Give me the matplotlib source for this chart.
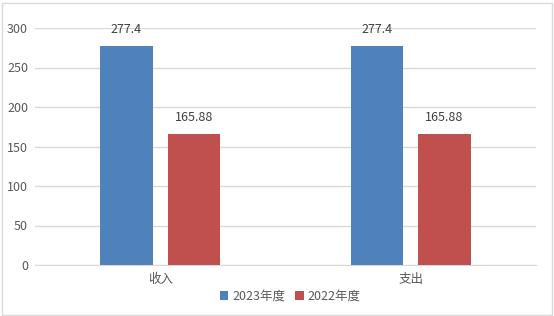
import numpy as np
import matplotlib.pyplot as plt
from matplotlib.patches import Rectangle

plt.rcParams['font.family'] = ['Noto Sans CJK SC', 'DejaVu Sans']

categories = ['收入', '支出']
series_names = ['2023年度', '2022年度']
values_2023 = [277.4, 277.4]
values_2022 = [165.88, 165.88]
value_labels_2023 = ['277.4', '277.4']
value_labels_2022 = ['165.88', '165.88']

blue = '#4F81BD'
red = '#C0504D'
text_color = '#595959'

fig = plt.figure(figsize=(5.54, 3.16), dpi=100)
ax = fig.add_axes([35 / 554, 1 - 265 / 316, (536 - 35) / 554, (265 - 28) / 316])

x = np.arange(len(categories))
w = 0.21
off = 0.135
b1 = ax.bar(x - off, values_2023, w, color=blue, label=series_names[0], zorder=3)
b2 = ax.bar(x + off, values_2022, w, color=red, label=series_names[1], zorder=3)

for bars, labels in [(b1, value_labels_2023), (b2, value_labels_2022)]:
    for rect, lab in zip(bars, labels):
        ax.annotate(lab, (rect.get_x() + rect.get_width() / 2, rect.get_height()),
                    xytext=(0, 7), textcoords='offset points', ha='center', va='bottom',
                    fontsize=9, color='#404040')

ax.set_xlim(-0.5, 1.5)
ax.set_ylim(0, 300)
ax.set_yticks(np.arange(0, 301, 50))
ax.set_xticks(x)
ax.set_xticklabels(categories)
ax.grid(axis='y', color='#D9D9D9', linewidth=1, zorder=0)
for s in ['top', 'right', 'left']:
    ax.spines[s].set_visible(False)
ax.spines['bottom'].set_color('#D9D9D9')
ax.tick_params(axis='both', length=0, labelsize=9, colors=text_color)
ax.tick_params(axis='y', pad=5)
ax.tick_params(axis='x', pad=6)

ax.legend(loc='center', bbox_to_anchor=(290 / 554, 1 - 296 / 316),
          bbox_transform=fig.transFigure, ncol=2, frameon=False, fontsize=9,
          handlelength=0.7, handleheight=0.7, handletextpad=0.3, columnspacing=0.8,
          labelcolor=text_color)

fig.patches.append(Rectangle((1.5 / 554, 1.5 / 316), 550 / 554, 312 / 316,
                             transform=fig.transFigure, fill=False,
                             edgecolor='#D9D9D9', linewidth=1))

fig.savefig('out.png', dpi=100)
